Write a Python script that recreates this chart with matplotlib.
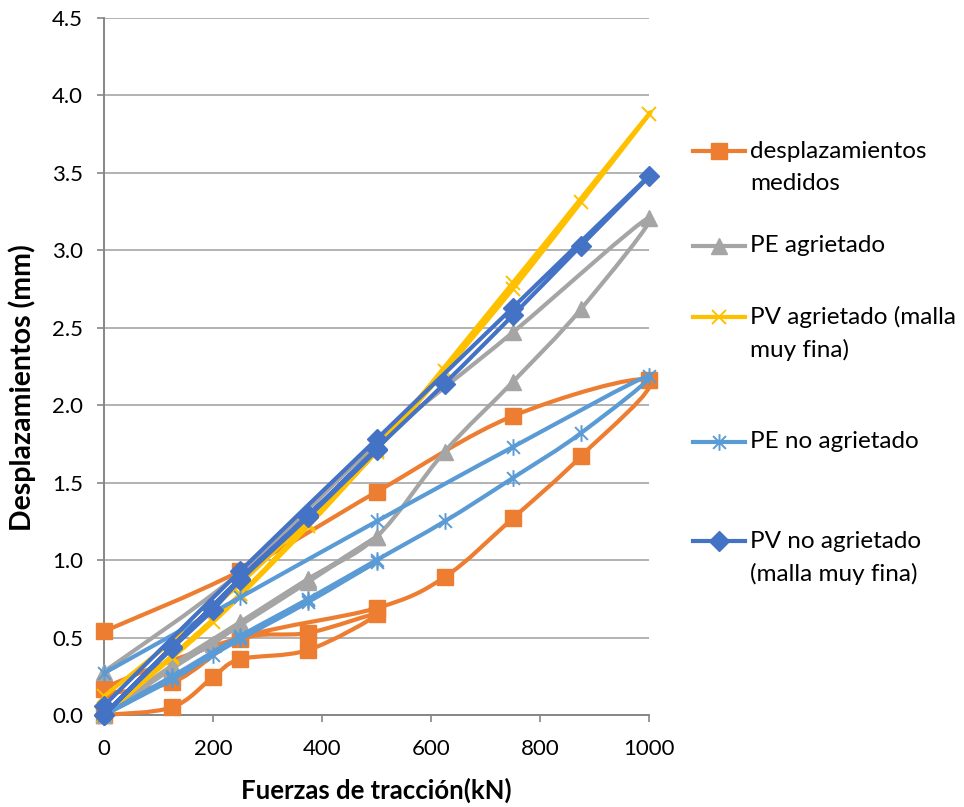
import numpy as np
import matplotlib
matplotlib.use("Agg")
from matplotlib import pyplot as plt
from matplotlib.path import Path
from matplotlib.patches import PathPatch
from matplotlib.lines import Line2D

plt.rcParams['font.family'] = ['Lato', 'DejaVu Sans']

# ---------------- data (kN, mm) ----------------
# desplazamientos medidos
x_med = [0, 125, 200, 250, 375, 500, 375, 250, 125, 0,
         250, 500, 625, 750, 875, 1000, 750, 500, 250, 0]
y_med = [0, 0.05, 0.245, 0.36, 0.42, 0.65, 0.53, 0.49, 0.21, 0.17,
         0.50, 0.69, 0.89, 1.27, 1.67, 2.16, 1.93, 1.44, 0.93, 0.54]

# PE agrietado
x_pea = [0, 125, 200, 250, 375, 500, 375, 250, 125, 0,
         125, 250, 375, 500, 625, 750, 875, 1000, 750, 500, 250, 0]
y_pea = [0, 0.31, 0.46, 0.59, 0.87, 1.15, 0.86, 0.58, 0.30, 0.0,
         0.32, 0.60, 0.88, 1.15, 1.70, 2.15, 2.62, 3.21, 2.47, 1.75, 0.92, 0.28]

# PV agrietado (malla muy fina)
x_pva = [0, 125, 200, 250, 375, 500, 375, 250, 125, 0,
         125, 250, 375, 500, 625, 750, 875, 1000, 750, 500, 250, 0]
y_pva = [0, 0.37, 0.60, 0.77, 1.22, 1.70, 1.23, 0.78, 0.38, 0.0,
         0.38, 0.78, 1.24, 1.71, 2.22, 2.75, 3.31, 3.88, 2.79, 1.73, 0.85, 0.12]

# PE no agrietado
x_pen = [0, 125, 200, 250, 375, 500, 375, 250, 125, 0,
         125, 250, 375, 500, 625, 750, 875, 1000, 750, 500, 250, 0]
y_pen = [0, 0.23, 0.39, 0.50, 0.74, 0.99, 0.73, 0.49, 0.24, 0.0,
         0.25, 0.51, 0.75, 1.00, 1.25, 1.53, 1.82, 2.19, 1.73, 1.25, 0.76, 0.27]

# PV no agrietado (malla muy fina)
x_pvn = [0, 125, 200, 250, 375, 500, 375, 250, 125, 0,
         125, 250, 375, 500, 625, 750, 875, 1000, 750, 500, 250, 0]
y_pvn = [0, 0.43, 0.68, 0.87, 1.28, 1.71, 1.29, 0.88, 0.44, 0.0,
         0.44, 0.88, 1.29, 1.72, 2.14, 2.58, 3.03, 3.48, 2.63, 1.78, 0.93, 0.06]

x_ticks = [0, 200, 400, 600, 800, 1000]
y_ticks = [0.0, 0.5, 1.0, 1.5, 2.0, 2.5, 3.0, 3.5, 4.0, 4.5]

# excel-like star marker (x with a vertical bar)
star = Path([(-1, -1), (1, 1), (-1, 1), (1, -1), (0, -1.3), (0, 1.3)],
            [Path.MOVETO, Path.LINETO, Path.MOVETO, Path.LINETO, Path.MOVETO, Path.LINETO])

series = [
    (x_med, y_med, '#ED7D31', dict(marker='s', ms=11), ['desplazamientos', 'medidos']),
    (x_pea, y_pea, '#A5A5A5', dict(marker='^', ms=11.5), ['PE agrietado']),
    (x_pva, y_pva, '#FFC000', dict(marker='x', ms=10, mew=1.4), ['PV agrietado (malla', 'muy fina)']),
    (x_pen, y_pen, '#5B9BD5', dict(marker=star, ms=12, mew=1.4), ['PE no agrietado']),
    (x_pvn, y_pvn, '#4472C4', dict(marker='D', ms=10), ['PV no agrietado', '(malla muy fina)']),
]


def smooth_path(xs, ys):
    # Catmull-Rom style bezier, like Excel's "smoothed line"
    p = np.column_stack([xs, ys]).astype(float)
    n = len(p)
    verts = [p[0]]
    codes = [Path.MOVETO]
    for i in range(n - 1):
        p0 = p[i - 1] if i > 0 else p[i]
        p1, p2 = p[i], p[i + 1]
        p3 = p[i + 2] if i + 2 < n else p[i + 1]
        verts += [p1 + (p2 - p0) / 6, p2 - (p3 - p1) / 6, p2]
        codes += [Path.CURVE4] * 3
    return Path(verts, codes)


W, H = 964, 807
fig = plt.figure(figsize=(W / 100, H / 100), dpi=100)
ax = fig.add_axes([104 / W, 1 - 715 / H, (649 - 104) / W, (715 - 18) / H])

for k, (xs, ys, c, mk, _) in enumerate(series):
    z = 3 + k
    ax.add_patch(PathPatch(smooth_path(xs, ys), facecolor='none', edgecolor=c,
                           lw=3.0, capstyle='round', joinstyle='round', zorder=z, clip_on=False))
    ax.plot(xs, ys, ls='none', color=c, mfc=c, mec=c, zorder=z + 0.5, clip_on=False, **mk)

ax.set_xlim(0, 1000)
ax.set_ylim(0, 4.5)
ax.set_xticks(x_ticks)
ax.set_yticks(y_ticks)
ax.set_yticklabels([f'{v:.1f}' for v in y_ticks])

ax.grid(axis='y', color='#A6A6A6', lw=1.2, zorder=0)
ax.set_axisbelow(True)
for s in ['top', 'right']:
    ax.spines[s].set_visible(False)
for s in ['left', 'bottom']:
    ax.spines[s].set_color('#868686')
    ax.spines[s].set_linewidth(1.4)
ax.tick_params(axis='both', direction='out', length=5, width=1.2, color='#868686',
               labelsize=16, labelcolor='black')
ax.tick_params(axis='y', pad=10)
ax.tick_params(axis='x', pad=12)

fig.text(376 / W, 1 - 790 / H, 'Fuerzas de tracción(kN)', ha='center', va='center',
         fontsize=18.5, fontweight='bold')
fig.text(22 / W, 1 - 388 / H, 'Desplazamientos (mm)', ha='center', va='center',
         rotation=90, fontsize=20.5, fontweight='bold')

# legend drawn by hand to follow Excel's layout
leg_y = [151, 246, 317, 442, 541]
for (xs, ys, c, mk, lines), yp in zip(series, leg_y):
    yf = 1 - yp / H
    fig.add_artist(Line2D([693 / W, 745 / W], [yf, yf], color=c, lw=3.0,
                          transform=fig.transFigure))
    fig.add_artist(Line2D([719 / W], [yf], ls='none', color=c, mfc=c, mec=c,
                          transform=fig.transFigure, **mk))
    for j, t in enumerate(lines):
        fig.text(750 / W, 1 - (yp + j * 33) / H, t, ha='left', va='center', fontsize=17.5)

fig.savefig('out.png', dpi=100)
